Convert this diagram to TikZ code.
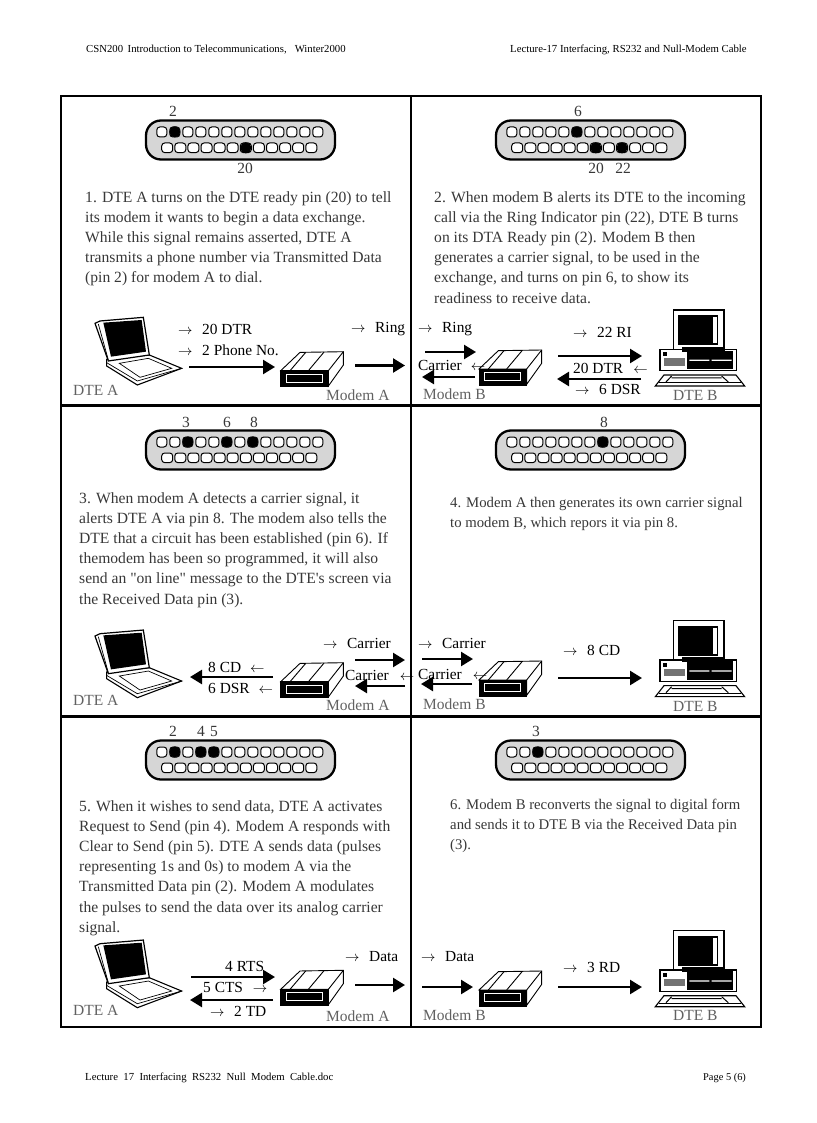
\documentclass[tikz,border=0pt]{standalone}
\usepackage{fontspec}
\setmainfont{Liberation Serif}[Ligatures=TeXOff]
\usetikzlibrary{arrows.meta}
\definecolor{txt}{gray}{0.22}
\definecolor{lab}{gray}{0.38}
\newcommand{\rarr}{\makebox[24pt][l]{$\rightarrow$}}
\newcommand{\larr}[1]{\hspace{#1}$\leftarrow$}
\tikzset{
  frameline/.style={line width=2.6pt,black},
  para/.style={anchor=north west,inner sep=0pt,align=left,text=txt,font=\fontsize{15.6}{20.2}\selectfont},
  parasmall/.style={anchor=north west,inner sep=0pt,align=left,text=txt,font=\fontsize{14.75}{20.2}\selectfont},
  sigtext/.style={anchor=west,inner sep=0pt,text=black,font=\fontsize{15.4}{18}\selectfont},
  devtext/.style={anchor=west,inner sep=0pt,text=lab,font=\fontsize{15.5}{18}\selectfont},
  pintext/.style={inner sep=0pt,text=txt,font=\fontsize{15.5}{18}\selectfont},
  pagetext/.style={anchor=west,inner sep=0pt,text=black,font=\fontsize{10.75}{12}\selectfont},
  signal/.style={line width=2.4pt,black,-{Triangle[length=12pt,width=14pt]}},
  pinopen/.style={draw=black,fill=white,line width=1pt,rounded corners=3pt},
}
\newcommand{\pinshell}[4]{%
 \begin{scope}[shift={(#1,#2)}]
  \draw[line width=2.3pt,fill=black!16,rounded corners=15pt] (146,120.5) -- (335,120.5) -- (335,159.5) -- (146,159.5) -- cycle;
  \foreach \i in {0,...,12}{\draw[pinopen] ({161.8+13*\i-5},127) rectangle ++(10,10);}
  \foreach \i in {0,...,11}{\draw[pinopen] ({167.2+13.1*\i-5.5},143) rectangle ++(11,9.6);}
  \foreach \i in {#3}{\fill[black] ({161.8+13*\i},131.9) circle (5.6);}
  \foreach \i in {#4}{\fill[black] ({167.2+13.1*\i},147.8) circle (5.6);}
 \end{scope}}
\newcommand{\laptopshape}[2]{%
 \begin{scope}[shift={(#1,#2)},x=0.3333pt,y=-0.3333pt]
  \draw[fill=white,line width=1.1pt] (140,178) -- (268,165) -- (365,205) -- (232,255) -- (140,198) -- cycle;
  \draw[line width=0.7pt] (140,188) -- (232,243) -- (365,205);
  \draw[line width=0.7pt] (178,190) -- (265,175) -- (335,205) -- (240,232) -- cycle;
  \draw[fill=white,line width=1.2pt] (105,70) -- (120,63) -- (250,52) -- (268,165) -- (145,183) -- cycle;
  \fill[black] (130,68) -- (245,60) -- (258,155) -- (153,170) -- cycle;
  \draw[line width=0.7pt] (115,72) -- (145,180);
 \end{scope}}
\newcommand{\modemshape}[2]{%
 \begin{scope}[shift={(#1,#2)},x=0.3333pt,y=-0.3333pt]
  \draw[fill=white,line width=0.9pt] (0,0) -- (58,-55) -- (188,-57) -- (188,-17) -- (143,46) -- (143,0) -- cycle;
  \draw[line width=0.9pt] (143,0) -- (188,-57);
  \draw[line width=0.9pt] (28,0) -- (75,-55) (83,0) -- (130,-56);
  \draw[fill=black,line width=0.5pt] (0,0) rectangle (143,48);
  \draw[white,line width=1pt] (17,10) rectangle (124,34);
 \end{scope}}
\newcommand{\desktopshape}[2]{%
 \begin{scope}[shift={(#1,#2)},x=0.3333pt,y=-0.3333pt]
  \draw[fill=white,line width=1.1pt] (790,30) rectangle (942,150);
  \fill[black] (805,45) rectangle (925,135);
  \fill[white] (908,52) rectangle (921,130);
  \draw[fill=white,line width=1.1pt] (750,148) rectangle (980,212);
  \fill[black] (815,140) rectangle (945,155);
  \fill[black] (832,152) rectangle (970,208);
  \fill[white] (838,179) rectangle (898,183) (905,179) rectangle (965,183);
  \fill[black] (760,157) rectangle (772,168);
  \fill[black!55] (762,175) rectangle (825,197);
  \draw[fill=white,line width=1.1pt] (762,225) -- (978,225) -- (1004,258) -- (736,258) -- cycle;
  \draw[line width=1pt] (748,248) -- (992,248);
  \draw[line width=1pt] (768,246) -- (785,228) (955,246) -- (935,228) (785,234) -- (935,234);
 \end{scope}}
\newcommand{\sigline}[5]{%
 \coordinate (#1-a) at (#2,#4);
 \coordinate (#1-b) at (#3,#5);
 \draw[signal] (#1-a) -- (#1-b);}
\begin{document}
\begin{tikzpicture}[x=1pt,y=-1pt]
\useasboundingbox (0,0) rectangle (816,1123);
\fill[white] (0,0) rectangle (816,1123);
\draw[frameline] (61,96) rectangle (761,1027);
\draw[frameline] (411,96) -- (411,1027);
\draw[frameline] (61,405.5) -- (761,405.5);
\draw[frameline] (61,716.5) -- (761,716.5);
\node[pagetext] (h1) at (86,50) {CSN200 \,Introduction to Telecommunications, \ \ Winter2000};
\node[pagetext] (h2) at (510,50) {Lecture-17 Interfacing, RS232 and Null-Modem Cable};
\node[pagetext] (f1) at (85,1078) {Lecture \ 17 \ Interfacing \ RS232 \ Null \ Modem \ Cable.doc};
\node[pagetext,font=\fontsize{10.4}{12}\selectfont] (f2) at (703,1078) {Page 5 (6)};
\pinshell{0}{0}{1}{6}
\pinshell{350}{0}{5}{6,8}
\pinshell{0}{310}{2,5,7}{}
\pinshell{350}{310}{7}{}
\pinshell{0}{620}{1,3,4}{}
\pinshell{350}{620}{2}{}
\node[pintext] (n1a) at (173,111) {2};
\node[pintext] (n1b) at (245,168) {20};
\node[pintext] (n2a) at (578,111) {6};
\node[pintext] (n2b) at (596,168) {20};
\node[pintext] (n2c) at (623,168) {22};
\node[pintext] (n3a) at (186,422) {3};
\node[pintext] (n3b) at (227,422) {6};
\node[pintext] (n3c) at (254,422) {8};
\node[pintext] (n4a) at (604,422) {8};
\node[pintext] (n5a) at (173,731) {2};
\node[pintext] (n5b) at (201,731) {4};
\node[pintext] (n5c) at (214,731) {5};
\node[pintext] (n6a) at (536,731) {3};
\node[para] (t1) at (85,191) {1. DTE A turns on the DTE ready pin (20) to tell\\its modem it wants to begin a data exchange.\\While this signal remains asserted, DTE A\\transmits a phone number via Transmitted Data\\(pin 2) for modem A to dial.};
\node[para] (t2) at (434,191) {2. When modem B alerts its DTE to the incoming\\call via the Ring Indicator pin (22), DTE B turns\\on its DTA Ready pin (2). Modem B then\\generates a carrier signal, to be used in the\\exchange, and turns on pin 6, to show its\\readiness to receive data.};
\node[para] (t3) at (79,492) {3. When modem A detects a carrier signal, it\\alerts DTE A via pin 8. The modem also tells the\\DTE that a circuit has been established (pin 6). If\\themodem has been so programmed, it will also\\send an "on line" message to the DTE's screen via\\the Received Data pin (3).};
\node[parasmall] (t4) at (450,497) {4. Modem A then generates its own carrier signal\\to modem B, which repors it via pin 8.};
\node[para] (t5) at (79,800) {5. When it wishes to send data, DTE A activates\\Request to Send (pin 4). Modem A responds with\\Clear to Send (pin 5). DTE A sends data (pulses\\representing 1s and 0s) to modem A via the\\Transmitted Data pin (2). Modem A modulates\\the pulses to send the data over its analog carrier\\signal.};
\node[parasmall] (t6) at (450,799) {6. Modem B reconverts the signal to digital form\\and sends it to DTE B via the Received Data pin\\(3).};
\laptopshape{60}{300}
\laptopshape{60}{612.7}
\laptopshape{60}{922.7}
\modemshape{280.7}{370.7}
\modemshape{479}{369}
\modemshape{280.7}{681.7}
\modemshape{479}{680}
\modemshape{280.7}{989.3}
\modemshape{479}{990}
\desktopshape{410}{300}
\desktopshape{410}{610.7}
\desktopshape{410}{920.7}
\sigline{a1}{189}{275}{367}{367}
\sigline{a2}{355}{405}{365.5}{365.5}
\sigline{a3}{425}{476}{352}{352}
\sigline{a4}{475}{422}{377}{377}
\sigline{a5}{558}{642}{356}{356}
\sigline{a6}{641}{557}{379}{379}
\sigline{a7}{273}{190}{677}{677}
\sigline{a8}{355}{405}{660}{660}
\sigline{a9}{405}{355}{686}{686}
\sigline{a10}{422}{473}{659}{659}
\sigline{a11}{472}{421}{684}{684}
\sigline{a12}{558}{642}{678}{678}
\sigline{a13}{191}{275}{977}{977}
\sigline{a14}{273}{190}{1000}{1000}
\sigline{a15}{355}{405}{985}{985}
\sigline{a16}{422}{473}{987}{987}
\sigline{a17}{558}{642}{987}{987}
\node[sigtext] (s1) at (178,329) {\rarr 20 DTR};
\node[sigtext] (s2) at (178,350) {\rarr 2 Phone No.};
\node[sigtext] (s3) at (351,329) {\rarr Ring};
\node[sigtext] (s4) at (418,329) {\rarr Ring};
\node[sigtext] (s5) at (573,332) {\rarr 22 RI};
\node[sigtext] (s6) at (418,365) {Carrier\larr{9pt}};
\node[sigtext] (s7) at (573,368) {20 DTR\larr{10pt}};
\node[sigtext] (s8) at (575,389) {\rarr 6 DSR};
\node[sigtext] (s9) at (323,643) {\rarr Carrier};
\node[sigtext] (s10) at (208,667) {8 CD\larr{9pt}};
\node[sigtext] (s11) at (208,688) {6 DSR\larr{9pt}};
\node[sigtext] (s12) at (345,675) {Carrier\larr{11pt}};
\node[sigtext] (s13) at (418,643) {\rarr Carrier};
\node[sigtext] (s14) at (418,674) {Carrier\larr{11pt}};
\node[sigtext] (s15) at (563,650) {\rarr 8 CD};
\node[sigtext] (s16) at (225,966) {4 RTS};
\node[sigtext] (s17) at (203,987) {5 CTS\hspace{10pt}$\rightarrow$};
\node[sigtext] (s18) at (210,1011) {\rarr 2 TD};
\node[sigtext] (s19) at (345,957) {\rarr Data};
\node[sigtext] (s20) at (421,957) {\rarr Data};
\node[sigtext] (s21) at (563,967) {\rarr 3 RD};
\node[devtext] (d1) at (73,390) {DTE A};
\node[devtext] (d2) at (326,395) {Modem A};
\node[devtext] (d3) at (423,394) {Modem B};
\node[devtext] (d4) at (673,395) {DTE B};
\node[devtext] (d5) at (73,700) {DTE A};
\node[devtext] (d6) at (326,705) {Modem A};
\node[devtext] (d7) at (423,704) {Modem B};
\node[devtext] (d8) at (673,706) {DTE B};
\node[devtext] (d9) at (73,1010) {DTE A};
\node[devtext] (d10) at (326,1016) {Modem A};
\node[devtext] (d11) at (423,1015) {Modem B};
\node[devtext] (d12) at (673,1015) {DTE B};
\end{tikzpicture}
\end{document}
